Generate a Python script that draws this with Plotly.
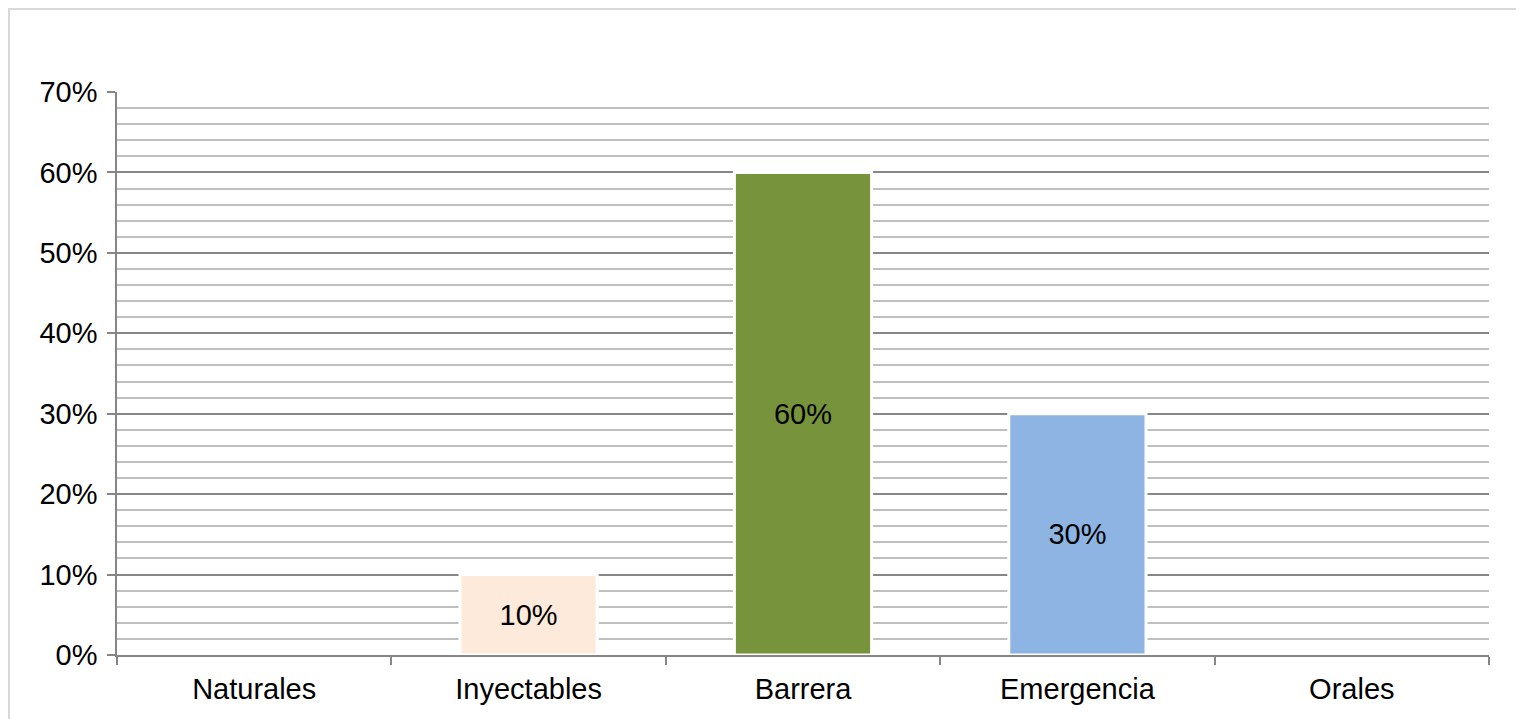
import plotly.graph_objects as go

categories = ["Naturales", "Inyectables", "Barrera", "Emergencia", "Orales"]
values = [0.0, 0.10, 0.60, 0.30, 0.0]
bar_colors = ["#FDEADA", "#FDEADA", "#77933C", "#8EB4E3", "#8EB4E3"]
labels = ["" if v == 0 else f"{v:.0%}" for v in values]

FONT = "Liberation Sans, Arial"

fig = go.Figure()

fig.add_trace(go.Bar(
    x=categories,
    y=values,
    width=0.5,
    marker=dict(color=bar_colors, line=dict(color="white", width=3)),
    text=labels,
    textposition="inside",
    insidetextanchor="middle",
    textfont=dict(family=FONT, size=29, color="black"),
    cliponaxis=False,
    showlegend=False,
))

# outer chart frame
fig.add_shape(type="rect", xref="paper", yref="paper",
              x0=-0.0787, x1=1.0204, y0=-0.2, y1=1.1474,
              line=dict(color="#D9D9D9", width=2), fillcolor="rgba(0,0,0,0)")

fig.update_layout(
    width=1510,
    height=711,
    margin=dict(l=109, r=29, t=84, b=64),
    paper_bgcolor="white",
    plot_bgcolor="white",
    font=dict(family=FONT, size=29, color="black"),
    xaxis=dict(
        showline=True, linecolor="#868686", linewidth=1.5,
        ticks="outside", ticklen=8, tickcolor="#868686", tickwidth=1.5,
        tickson="boundaries",
        showgrid=False,
        tickfont=dict(size=29),
        ticklabelstandoff=7,
    ),
    yaxis=dict(
        range=[0, 0.7],
        dtick=0.1,
        tickformat=".0%",
        showline=True, linecolor="#868686", linewidth=1.5,
        ticks="outside", ticklen=8, tickcolor="#868686", tickwidth=1.5,
        showgrid=True, gridcolor="#868686", gridwidth=1.5,
        zeroline=False,
        minor=dict(dtick=0.02, showgrid=True, gridcolor="#BFBFBF", gridwidth=1.5),
        tickfont=dict(size=29),
        ticklabelstandoff=4,
    ),
)

fig.write_html("out.html")
